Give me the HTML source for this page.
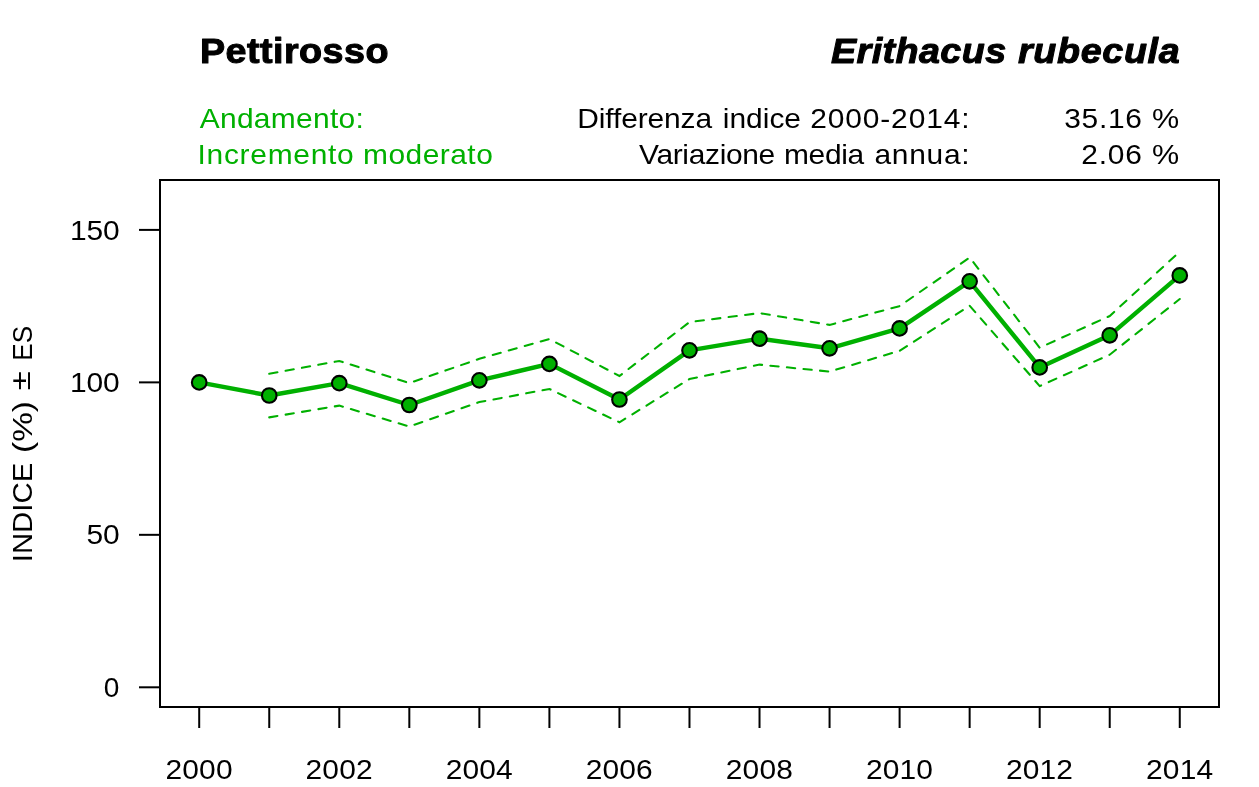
<!DOCTYPE html>
<html><head><meta charset="utf-8"><title>Pettirosso - Erithacus rubecula</title>
<style>html,body{margin:0;padding:0;background:#fff;width:1259px;height:787px;overflow:hidden}svg{display:block;will-change:transform}text{font-family:"Liberation Sans",sans-serif}</style></head><body>
<svg width="1259" height="787" viewBox="0 0 1259 787">
<rect width="1259" height="787" fill="#fff"/>
<text transform="translate(200.00,63.40) scale(1.0800,1)" font-size="34.90" font-weight="bold" stroke="#000" stroke-width="1.0" stroke-linejoin="round" textLength="174.47" lengthAdjust="spacing">Pettirosso</text>
<text transform="translate(831.00,63.40) scale(1.0800,1)" font-size="34.90" font-weight="bold" font-style="italic" stroke="#000" stroke-width="1.0" stroke-linejoin="round" textLength="162.16" lengthAdjust="spacing">Erithacus</text>
<text transform="translate(1018.00,63.40) scale(1.0800,1)" font-size="34.90" font-weight="bold" font-style="italic" stroke="#000" stroke-width="1.0" stroke-linejoin="round" textLength="149.74" lengthAdjust="spacing">rubecula</text>
<text transform="translate(199.75,128.00) scale(1.1000,1)" font-size="27.20" fill="#00B000" textLength="149.13" lengthAdjust="spacing">Andamento:</text>
<text transform="translate(197.50,164.00) scale(1.1000,1)" font-size="27.20" fill="#00B000" textLength="142.06" lengthAdjust="spacing">Incremento</text>
<text transform="translate(363.00,164.00) scale(1.1000,1)" font-size="27.20" fill="#00B000" textLength="118.00" lengthAdjust="spacing">moderato</text>
<text transform="translate(577.25,128.00) scale(1.1000,1)" font-size="27.20" textLength="122.60" lengthAdjust="spacing">Differenza</text>
<text transform="translate(722.75,128.00) scale(1.1000,1)" font-size="27.20" textLength="71.14" lengthAdjust="spacing">indice</text>
<text transform="translate(810.25,128.00) scale(1.1000,1)" font-size="27.20" textLength="144.76" lengthAdjust="spacing">2000-2014:</text>
<text transform="translate(639.00,164.00) scale(1.1000,1)" font-size="27.20" textLength="123.86" lengthAdjust="spacing">Variazione</text>
<text transform="translate(784.00,164.00) scale(1.1000,1)" font-size="27.20" textLength="72.97" lengthAdjust="spacing">media</text>
<text transform="translate(874.50,164.00) scale(1.1000,1)" font-size="27.20" textLength="86.43" lengthAdjust="spacing">annua:</text>
<text transform="translate(1064.25,128.00) scale(1.1000,1)" font-size="27.20" textLength="70.68" lengthAdjust="spacing">35.16</text>
<text transform="translate(1152.00,128.00) scale(1.1236,1)" font-size="27.20" textLength="24.19" lengthAdjust="spacing">%</text>
<text transform="translate(1081.25,164.00) scale(1.1000,1)" font-size="27.20" textLength="55.15" lengthAdjust="spacing">2.06</text>
<text transform="translate(1152.00,164.00) scale(1.1236,1)" font-size="27.20" textLength="24.19" lengthAdjust="spacing">%</text>
<text transform="translate(70.00,240.00) scale(1.1000,1)" font-size="27.20" textLength="45.06" lengthAdjust="spacing">150</text>
<text transform="translate(70.00,392.00) scale(1.1000,1)" font-size="27.20" textLength="45.06" lengthAdjust="spacing">100</text>
<text transform="translate(86.50,544.00) scale(1.1000,1)" font-size="27.20" textLength="30.16" lengthAdjust="spacing">50</text>
<text transform="translate(103.75,697.00) scale(1.0308,1)" font-size="27.20" textLength="15.12" lengthAdjust="spacing">0</text>
<text transform="translate(165.50,779.00) scale(1.1000,1)" font-size="27.20" textLength="60.94" lengthAdjust="spacing">2000</text>
<text transform="translate(305.58,779.00) scale(1.1000,1)" font-size="27.20" textLength="60.94" lengthAdjust="spacing">2002</text>
<text transform="translate(445.66,779.00) scale(1.1000,1)" font-size="27.20" textLength="60.94" lengthAdjust="spacing">2004</text>
<text transform="translate(585.74,779.00) scale(1.1000,1)" font-size="27.20" textLength="60.94" lengthAdjust="spacing">2006</text>
<text transform="translate(725.82,779.00) scale(1.1000,1)" font-size="27.20" textLength="60.94" lengthAdjust="spacing">2008</text>
<text transform="translate(865.90,779.00) scale(1.1000,1)" font-size="27.20" textLength="60.94" lengthAdjust="spacing">2010</text>
<text transform="translate(1005.98,779.00) scale(1.1000,1)" font-size="27.20" textLength="60.94" lengthAdjust="spacing">2012</text>
<text transform="translate(1146.06,779.00) scale(1.1000,1)" font-size="27.20" textLength="60.94" lengthAdjust="spacing">2014</text>
<text transform="translate(31.80,562.25) rotate(-90)" font-size="27.20" textLength="99.57" lengthAdjust="spacingAndGlyphs">INDICE</text>
<text transform="translate(31.80,452.90) rotate(-90)" font-size="27.20" textLength="51.87" lengthAdjust="spacingAndGlyphs">(%)</text>
<text transform="translate(29.60,390.35) rotate(-90)" font-size="27.20" textLength="19.08" lengthAdjust="spacingAndGlyphs">±</text>
<text transform="translate(31.80,360.65) rotate(-90)" font-size="27.20" textLength="34.91" lengthAdjust="spacingAndGlyphs">ES</text>
<rect x="160" y="180" width="1059" height="527" fill="none" stroke="#000" stroke-width="2"/>
<line x1="139" y1="687.30" x2="160" y2="687.30" stroke="#000" stroke-width="2"/>
<line x1="139" y1="534.83" x2="160" y2="534.83" stroke="#000" stroke-width="2"/>
<line x1="139" y1="382.37" x2="160" y2="382.37" stroke="#000" stroke-width="2"/>
<line x1="139" y1="229.90" x2="160" y2="229.90" stroke="#000" stroke-width="2"/>
<line x1="199.20" y1="707" x2="199.20" y2="728" stroke="#000" stroke-width="2"/>
<line x1="269.24" y1="707" x2="269.24" y2="728" stroke="#000" stroke-width="2"/>
<line x1="339.28" y1="707" x2="339.28" y2="728" stroke="#000" stroke-width="2"/>
<line x1="409.32" y1="707" x2="409.32" y2="728" stroke="#000" stroke-width="2"/>
<line x1="479.36" y1="707" x2="479.36" y2="728" stroke="#000" stroke-width="2"/>
<line x1="549.40" y1="707" x2="549.40" y2="728" stroke="#000" stroke-width="2"/>
<line x1="619.44" y1="707" x2="619.44" y2="728" stroke="#000" stroke-width="2"/>
<line x1="689.48" y1="707" x2="689.48" y2="728" stroke="#000" stroke-width="2"/>
<line x1="759.52" y1="707" x2="759.52" y2="728" stroke="#000" stroke-width="2"/>
<line x1="829.56" y1="707" x2="829.56" y2="728" stroke="#000" stroke-width="2"/>
<line x1="899.60" y1="707" x2="899.60" y2="728" stroke="#000" stroke-width="2"/>
<line x1="969.64" y1="707" x2="969.64" y2="728" stroke="#000" stroke-width="2"/>
<line x1="1039.68" y1="707" x2="1039.68" y2="728" stroke="#000" stroke-width="2"/>
<line x1="1109.72" y1="707" x2="1109.72" y2="728" stroke="#000" stroke-width="2"/>
<line x1="1179.76" y1="707" x2="1179.76" y2="728" stroke="#000" stroke-width="2"/>
<polyline points="269.24,373.80 339.28,361.00 409.32,383.10 479.36,358.80 549.40,339.00 619.44,376.00 689.48,322.10 759.52,313.10 829.56,324.90 899.60,306.10 969.64,257.50 1039.68,347.70 1109.72,316.00 1179.76,251.60" fill="none" stroke="#00B000" stroke-width="2.08" stroke-dasharray="8.31 8.31" stroke-linecap="round"/>
<polyline points="269.24,417.40 339.28,405.60 409.32,426.50 479.36,402.10 549.40,389.00 619.44,422.30 689.48,379.00 759.52,364.60 829.56,371.60 899.60,350.80 969.64,305.70 1039.68,386.10 1109.72,354.70 1179.76,299.00" fill="none" stroke="#00B000" stroke-width="2.08" stroke-dasharray="8.31 8.31" stroke-linecap="round"/>
<polyline points="199.20,382.40 269.24,395.50 339.28,383.20 409.32,405.00 479.36,380.35 549.40,363.90 619.44,399.50 689.48,350.35 759.52,338.70 829.56,348.30 899.60,328.40 969.64,281.30 1039.68,367.40 1109.72,335.30 1179.76,275.40" fill="none" stroke="#00B000" stroke-width="4.4" stroke-linejoin="round" stroke-linecap="round"/>
<circle cx="199.20" cy="382.40" r="7.3" fill="#00B000" stroke="#000" stroke-width="2.1"/>
<circle cx="269.24" cy="395.50" r="7.3" fill="#00B000" stroke="#000" stroke-width="2.1"/>
<circle cx="339.28" cy="383.20" r="7.3" fill="#00B000" stroke="#000" stroke-width="2.1"/>
<circle cx="409.32" cy="405.00" r="7.3" fill="#00B000" stroke="#000" stroke-width="2.1"/>
<circle cx="479.36" cy="380.35" r="7.3" fill="#00B000" stroke="#000" stroke-width="2.1"/>
<circle cx="549.40" cy="363.90" r="7.3" fill="#00B000" stroke="#000" stroke-width="2.1"/>
<circle cx="619.44" cy="399.50" r="7.3" fill="#00B000" stroke="#000" stroke-width="2.1"/>
<circle cx="689.48" cy="350.35" r="7.3" fill="#00B000" stroke="#000" stroke-width="2.1"/>
<circle cx="759.52" cy="338.70" r="7.3" fill="#00B000" stroke="#000" stroke-width="2.1"/>
<circle cx="829.56" cy="348.30" r="7.3" fill="#00B000" stroke="#000" stroke-width="2.1"/>
<circle cx="899.60" cy="328.40" r="7.3" fill="#00B000" stroke="#000" stroke-width="2.1"/>
<circle cx="969.64" cy="281.30" r="7.3" fill="#00B000" stroke="#000" stroke-width="2.1"/>
<circle cx="1039.68" cy="367.40" r="7.3" fill="#00B000" stroke="#000" stroke-width="2.1"/>
<circle cx="1109.72" cy="335.30" r="7.3" fill="#00B000" stroke="#000" stroke-width="2.1"/>
<circle cx="1179.76" cy="275.40" r="7.3" fill="#00B000" stroke="#000" stroke-width="2.1"/>
</svg></body></html>
